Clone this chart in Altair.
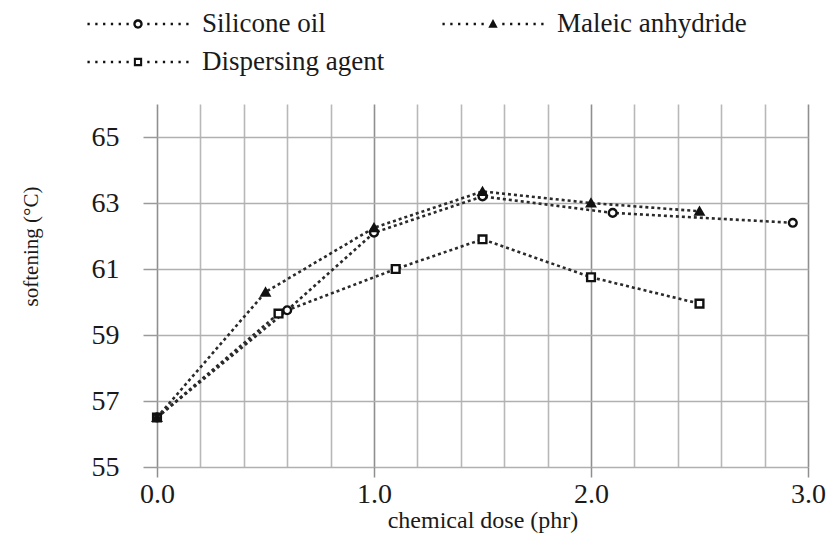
import altair as alt
import pandas as pd

# ---- data ----
series_names = ["Silicone oil", "Dispersing agent", "Maleic anhydride"]
silicone_x = [0.0, 0.6, 1.0, 1.5, 2.1, 2.93]
silicone_y = [56.5, 59.75, 62.1, 63.2, 62.7, 62.4]
maleic_x = [0.0, 0.5, 1.0, 1.5, 2.0, 2.5]
maleic_y = [56.5, 60.3, 62.25, 63.35, 63.0, 62.75]
dispersing_x = [0.0, 0.56, 1.1, 1.5, 2.0, 2.5]
dispersing_y = [56.5, 59.65, 61.0, 61.9, 60.75, 59.95]

x_ticks = [0.0, 0.2, 0.4, 0.6, 0.8, 1.0, 1.2, 1.4, 1.6, 1.8, 2.0,
           2.2, 2.4, 2.6, 2.8, 3.0]
y_ticks = [55, 56, 57, 58, 59, 60, 61, 62, 63, 64, 65, 66]

rows = []
for name, xs, ys in [("Dispersing agent", dispersing_x, dispersing_y),
                     ("Silicone oil", silicone_x, silicone_y),
                     ("Maleic anhydride", maleic_x, maleic_y)]:
    for xv, yv in zip(xs, ys):
        rows.append({"series": name, "dose": xv, "soft": yv})
df = pd.DataFrame(rows)

FONT = "Liberation Serif"
INK = "#1a1a1a"


# ---- legend symbols: dotted line with marker in the middle ----
def dots():
    parts = []
    for c in [0.2, 0.35, 0.5, 0.65, 0.8, 0.95]:
        for s in (-1, 1):
            cx = s * c
            parts.append(
                f"M {cx-0.022:.3f} -0.026 L {cx+0.022:.3f} -0.026 "
                f"L {cx+0.022:.3f} 0.026 L {cx-0.022:.3f} 0.026 Z")
    return " ".join(parts)


circle_path = (dots() + " M 0.09 0 A 0.09 0.09 0 1 1 -0.09 0 A 0.09 0.09 0 1 1 0.09 0 Z"
               " M 0.045 0 A 0.045 0.045 0 1 0 -0.045 0 A 0.045 0.045 0 1 0 0.045 0 Z")
triangle_path = dots() + " M 0 -0.095 L 0.09 0.07 L -0.09 0.07 Z"
square_path = (dots() + " M -0.08 -0.08 L 0.08 -0.08 L 0.08 0.08 L -0.08 0.08 Z"
               " M -0.04 -0.04 L -0.04 0.04 L 0.04 0.04 L 0.04 -0.04 Z")

x_enc = alt.X("dose:Q", scale=alt.Scale(domain=[0, 3], nice=False),
              axis=alt.Axis(
                  values=x_ticks,
                  labelExpr="abs(datum.value - round(datum.value)) < 0.001 ? format(datum.value, '.1f') : ''",
                  tickOpacity={"condition": {"test": "abs(datum.value - round(datum.value)) < 0.001", "value": 1}, "value": 0},
                  gridColor={"condition": {"test": "abs(datum.value - round(datum.value)) < 0.001", "value": "#8f8f8f"}, "value": "#b8b8b8"},
                  tickColor="#8f8f8f", tickSize=10, tickWidth=1.5,
                  gridWidth=1.6, domain=False,
                  labelFont=FONT, labelFontSize=28, labelColor=INK, labelPadding=3,
                  labelFlush=False,
                  title="chemical dose (phr)", titleFont=FONT, titleFontSize=24,
                  titleFontWeight="normal", titleColor=INK,
                  titleBaseline="middle", titleY=53))

y_enc = alt.Y("soft:Q", scale=alt.Scale(domain=[55, 66], nice=False, zero=False),
              axis=alt.Axis(
                  values=y_ticks,
                  labelExpr="datum.value % 2 == 1 ? datum.label : ''",
                  tickOpacity={"condition": {"test": "datum.value % 2 == 1", "value": 1}, "value": 0},
                  gridColor="#b0b0b0", gridWidth=1.6,
                  tickColor="#9a9a9a", tickSize=14, tickWidth=1.5,
                  domain=False,
                  labelFont=FONT, labelFontSize=28, labelColor=INK, labelPadding=24,
                  labelFlush=False,
                  title="softening (°C)", titleFont=FONT, titleFontSize=21,
                  titleFontWeight="normal", titleColor=INK,
                  titleBaseline="middle", titleX=-126, titleY=142))

lines = alt.Chart(df).mark_line(
    strokeDash=[3, 3], strokeWidth=2.6, color="#2a2a2a"
).encode(x=x_enc, y=y_enc, detail="series:N")

points = alt.Chart(df).mark_point(
    filled=True, stroke="#111", strokeWidth=2.4, opacity=1, size=60
).encode(
    x=alt.X("dose:Q"), y=alt.Y("soft:Q"),
    shape=alt.Shape("series:N",
                    scale=alt.Scale(domain=series_names,
                                    range=["circle", "square", "triangle-up"]),
                    legend=None),
    fill=alt.Fill("series:N",
                  scale=alt.Scale(domain=series_names,
                                  range=["white", "white", "#111"]),
                  legend=None),
)

legend_layer = alt.Chart(df).transform_filter("false").mark_point(
    filled=True, color="#111", opacity=1, strokeWidth=0
).encode(
    x=alt.X("dose:Q"), y=alt.Y("soft:Q"),
    shape=alt.Shape("series:N",
                    scale=alt.Scale(domain=series_names,
                                    range=[circle_path, square_path, triangle_path]),
                    legend=alt.Legend(
                        title=None, orient="none", legendX=-71, legendY=-96,
                        columns=2, columnPadding=56, rowPadding=6,
                        clipHeight=32, padding=0, offset=0,
                        symbolSize=10816, symbolFillColor="#111",
                        symbolStrokeWidth=0, symbolOpacity=1, symbolOffset=0,
                        labelFont=FONT, labelFontSize=27, labelColor=INK,
                        labelOffset=12, labelLimit=500)),
)

chart = alt.layer(lines, points, legend_layer).resolve_scale(
    shape="independent", fill="independent"
).properties(
    width=651, height=363,
    autosize=alt.AutoSizeParams(type="none"),
    padding={"left": 149, "top": 96, "right": 19, "bottom": 67},
    background="white",
).configure_view(stroke=None).configure_legend(
    labelFont=FONT, labelFontSize=27, labelColor=INK
)

chart.save("out.html", embed_options={"renderer": "svg", "actions": False})
